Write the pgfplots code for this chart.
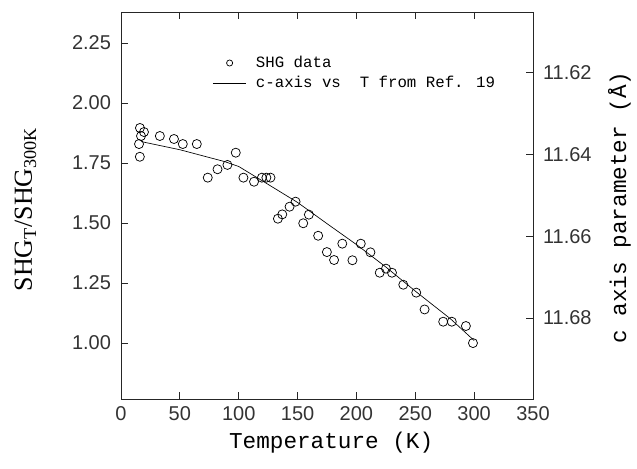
\documentclass[border=0pt]{standalone}
\usepackage{fontspec}
\setmainfont{Liberation Mono}
\newfontfamily\serfont{Liberation Serif}
\newfontfamily\sansfont{Liberation Sans}
\usepackage{pgfplots}
\pgfplotsset{compat=1.18}

\pgfplotsset{
  base/.style={
    width=309pt, height=290.25pt, scale only axis,
    xmin=0, xmax=350,
    tick align=inside,
    major tick length=5pt,
    axis line style={line width=0.6pt, black!85},
    every tick/.style={line width=0.6pt, black!85},
    ticklabel style={font=\sansfont\fontsize{15}{18}\selectfont, black!80},
    /pgf/number format/assume math mode=true,
  },
  smallmark legend/.style={legend image code/.code={\draw[##1, mark size=2.3pt] plot coordinates {(12.5pt,0pt)};}},
  longline legend/.style={legend image code/.code={\draw[##1] (0pt,0pt) -- (25pt,0pt);}},
}

\begin{document}
\begin{tikzpicture}
\begin{axis}[base,
  ymin=0.767, ymax=2.379,
  xtick={0,50,100,150,200,250,300,350},
  xtick pos=both, xticklabel pos=lower,
  ytick={1.00,1.25,1.50,1.75,2.00,2.25},
  ytick pos=left,
  xticklabel style={yshift=-2pt},
  yticklabel style={xshift=-4pt, /pgf/number format/.cd, fixed, fixed zerofill, precision=2},
  xlabel={Temperature (K)},
  xlabel style={font=\fontsize{17}{20}\selectfont, at={(axis description cs:0.51,-0.114)}, anchor=center},
  ylabel={SHG\textsubscript{T}/SHG\textsubscript{300K}},
  ylabel style={font=\serfont\fontsize{19.5}{23}\selectfont, inner sep=0pt, at={(axis description cs:-0.232,0.49)}, anchor=center},
  legend style={draw=none, fill=none, at={(axis description cs:0.212,0.90)}, anchor=north west,
    font=\fontsize{11.8}{14}\selectfont, row sep=1pt,
    /tikz/every odd column/.append style={column sep=5pt}},
  legend cell align=left,
]
\coordinate (tl) at (rel axis cs:0,1);
\coordinate (br) at (rel axis cs:1,0);
\addplot[only marks, mark=o, mark size=3.4pt, mark options={line width=0.55pt, black}, smallmark legend]
coordinates {
  (16.1,1.896) (19.5,1.879) (17.0,1.8625) (33.0,1.8625) (45.0,1.850)
  (52.5,1.829) (64.4,1.829) (15.3,1.829) (16.0,1.776) (97.5,1.793)
  (90.4,1.742) (82.0,1.724) (73.7,1.689) (104.0,1.689) (113.0,1.672)
  (119.7,1.689) (123.5,1.689) (127.0,1.689) (148.3,1.589) (143.2,1.568)
  (137.0,1.536) (133.3,1.518) (159.6,1.535) (154.8,1.499) (167.5,1.447)
  (174.9,1.379) (181.0,1.346) (188.0,1.414) (196.6,1.345) (203.7,1.414)
  (211.9,1.378) (219.8,1.293) (225.1,1.310) (230.2,1.293) (239.8,1.243)
  (250.8,1.210) (257.9,1.140) (273.7,1.089) (281.0,1.089) (293.0,1.071)
  (299.0,1.000)
};
\addlegendentry{SHG data}
\addlegendimage{black, line width=0.5pt, longline legend}
\addlegendentry{c-axis vs\ \ T from Ref. 19}
\end{axis}

\begin{axis}[base,
  axis x line=none, axis y line*=right,
  y dir=reverse, ymin=11.6051, ymax=11.6998,
  ytick={11.62,11.64,11.66,11.68},
  yticklabel style={xshift=4pt, /pgf/number format/.cd, fixed, fixed zerofill, precision=2},
  ylabel={c axis parameter (Å)},
  ylabel style={font=\fontsize{17}{20}\selectfont, inner sep=0pt, at={(axis description cs:1.21,0.495)}, anchor=center},
]
\addplot[black, line width=0.5pt] coordinates {
  (17,11.6368) (50,11.6388) (88,11.6417) (100,11.6429) (120,11.6464)
  (150,11.6517) (177,11.6573) (200,11.6620) (225,11.6675) (250,11.6734)
  (280,11.6802) (300,11.6855)
};
\end{axis}
\path ([yshift=9pt,xshift=-90.75pt]tl) ([yshift=-51.75pt,xshift=78pt]br);
\end{tikzpicture}
\end{document}
